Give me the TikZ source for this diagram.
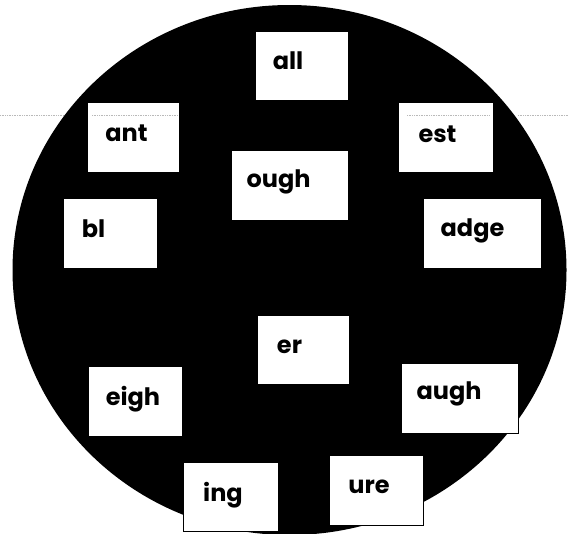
\documentclass[tikz,border=0pt]{standalone}
\usepackage{fontspec}
\setmainfont{Poppins}

\begin{document}
\begin{tikzpicture}[x=1pt, y=-1pt,
    card/.style={fill=white, draw=black, line width=0.6pt},
    word/.style={anchor=base, inner sep=0pt, font=\bfseries\fontsize{24}{24}\selectfont},
    scanline/.style={gray!55, line width=0.7pt, densely dotted}]
    % page
    \clip (0,0) rectangle (569,533);
    \fill[white] (0,0) rectangle (569,533);

    % black disc
    \fill[black] (289.5,270) ellipse [x radius=277pt, y radius=265pt];

    % word cards: name / corners / base point of the word
    \foreach \w/\xa/\ya/\xb/\yb/\tx/\ty in {
        all/255/31/348/100/288/69,
        ant/87/102/179/172/126.5/141,
        est/398/102/493/172/437.5/142,
        ough/231/150/348/220/278.5/187,
        bl/63/198/157/268/93.5/237,
        adge/423/198/541/268/472.5/236,
        er/257/315/349/384/289.5/353,
        eigh/88/366/182/436/133/405,
        augh/401/363/518/433/449/399,
        ing/183/462/278/531/223/501,
        ure/329/455/423/525/369/493}
    {
        \draw[card] (\xa,\ya) rectangle (\xb,\yb);
        \node[word] (\w) at (\tx,\ty) {\w};
    }

    % faint scanner line
    \draw[scanline] (0,115) -- (63,115);
    \draw[scanline] (92,115) -- (178,115);
    \draw[scanline] (407,115) -- (490,115);
    \draw[scanline] (518,115) -- (569,115);
\end{tikzpicture}
\end{document}
